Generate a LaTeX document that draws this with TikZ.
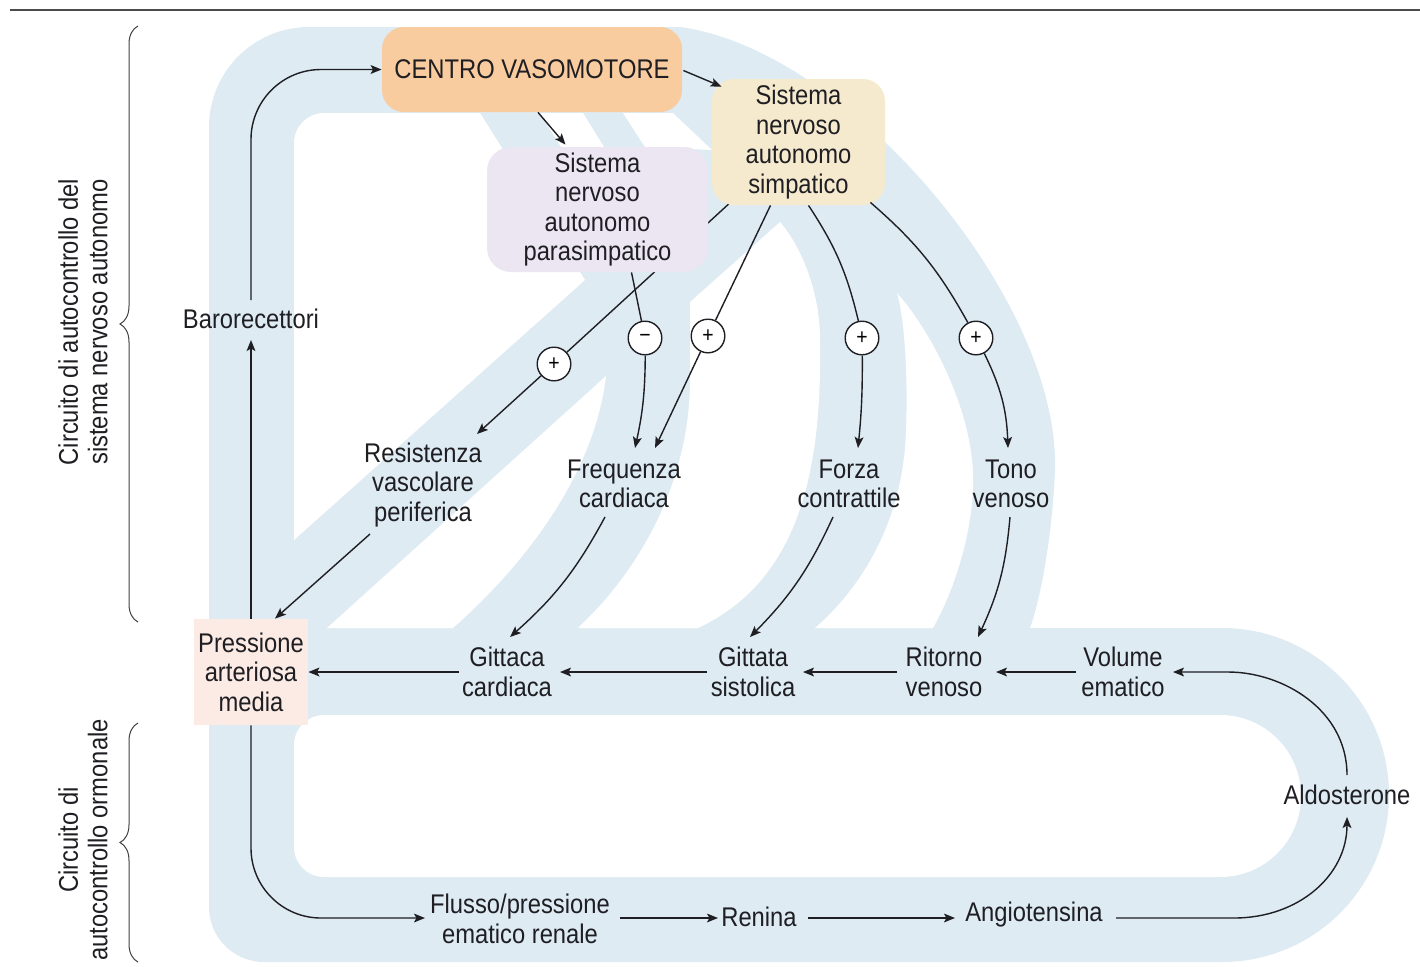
\documentclass[tikz,border=0pt]{standalone}
\usepackage{fontspec}
\setmainfont{Liberation Sans}[FakeStretch=0.88]
\usetikzlibrary{arrows.meta,calc,decorations.pathreplacing}
\definecolor{bandc}{RGB}{222,235,243}
\definecolor{cvc}{RGB}{249,204,159}
\definecolor{parc}{RGB}{236,230,242}
\definecolor{simc}{RGB}{246,234,206}
\definecolor{pamc}{RGB}{252,235,228}
\definecolor{inkc}{RGB}{30,30,35}
\pgfdeclarelayer{bg}
\pgfdeclarelayer{mid}
\pgfsetlayers{bg,mid,main}
\begin{document}
\begin{tikzpicture}[x=0.5pt,y=0.5pt,
  txt/.style={font=\fontsize{13.5}{14.7}\selectfont, align=center, inner sep=0pt, text=inkc},
  box/.style={txt},
  arr/.style={-{Stealth[length=5.5pt,width=4.4pt,inset=1.2pt]}, line width=0.7pt, draw=inkc},
  ln/.style={line width=0.7pt, draw=inkc},
  sgn/.style={circle, draw=inkc, line width=0.7pt, fill=white, minimum size=16.8pt, inner sep=0pt, font=\fontsize{11}{11}\selectfont},
  brc/.style={decorate, decoration={brace, amplitude=9pt}, line width=0.5pt, draw=black!75}
]
\useasboundingbox (0,0) rectangle (1420,-966);

% ---------- bands ----------
\begin{pgfonlayer}{bg}
\fill[bandc] (309,-27) -- (680,-27) .. controls (850,-50) and (1060,-300) .. (1055,-470)
  .. controls (1052,-540) and (1040,-600) .. (1030,-628) -- (1222,-628)
  arc[start angle=90,end angle=-90,radius=167] -- (264,-962)
  arc[start angle=270,end angle=180,radius=55] -- (209,-127)
  arc[start angle=180,end angle=90,radius=100] -- cycle;
\fill[white] (324,-715) -- (1220,-715) arc[start angle=90,end angle=-90,radius=81]
  -- (324,-877) arc[start angle=270,end angle=180,radius=30] -- (294,-745)
  arc[start angle=180,end angle=90,radius=30] -- cycle;
\fill[white] (294,-540) -- (294,-143) arc[start angle=180,end angle=90,radius=30]
  -- (480,-113) -- (585,-280) -- cycle;
\fill[white] (327,-628) -- (606,-376) .. controls (595,-470) and (530,-560) .. (453,-628) -- cycle;
\fill[white] (578,-628) .. controls (650,-560) and (690,-470) .. (690,-380) -- (690,-302)
  -- (780,-222) .. controls (800,-245) and (820,-290) .. (820,-340)
  .. controls (822,-470) and (800,-580) .. (698,-628) -- cycle;
\fill[white] (897,-293) .. controls (905,-320) and (908,-380) .. (906,-430)
  .. controls (904,-510) and (870,-580) .. (815,-628) -- (933,-628)
  .. controls (960,-580) and (978,-510) .. (972,-460)
  .. controls (966,-400) and (930,-330) .. (897,-293) -- cycle;
\fill[white] (540,-113) -- (583,-113) -- (604,-147) -- (561,-147) -- cycle;
\fill[white] (623,-113) -- (673,-113) -- (712,-150) -- (645,-147) -- cycle;
\end{pgfonlayer}

% ---------- header line and braces ----------
\coordinate (h1) at (10,-10);
\coordinate (h2) at (1420,-10);
\draw[line width=1.3pt, draw=black!70] (h1) -- (h2);
\coordinate (b1s) at (138,-622);
\coordinate (b1e) at (138,-26);
\coordinate (b2s) at (138,-962);
\coordinate (b2e) at (138,-723);
\draw[brc] (b1s) -- (b1e);
\draw[brc] (b2s) -- (b2e);
\node[txt, rotate=90] (lab1) at (83,-322) {Circuito di autocontrollo del\\sistema nervoso autonomo};
\node[txt, rotate=90] (lab2) at (83,-840) {Circuito di\\autocontrollo ormonale};

% ---------- boxes ----------
\node[box, fill=cvc, minimum width=150pt, minimum height=42.5pt, rounded corners=11pt] (cv) at (532,-69.5) {CENTRO VASOMOTORE};
\node[box, fill=parc, minimum width=110.5pt, minimum height=62.5pt, rounded corners=12pt] (par) at (597.5,-209.5) {Sistema\\nervoso\\autonomo\\parasimpatico};
\node[box, fill=simc, minimum width=86.5pt, minimum height=63pt, rounded corners=11pt] (sim) at (798.5,-142) {Sistema\\nervoso\\autonomo\\simpatico};
\node[box, fill=pamc, minimum width=57pt, minimum height=53pt] (pam) at (251,-672) {Pressione\\arteriosa\\media};

% ---------- text nodes ----------
\node[txt] (baro) at (251,-319) {Barorecettori};
\node[txt] (res) at (423,-485) {Resistenza\\vascolare\\periferica};
\node[txt] (frq) at (624,-484) {Frequenza\\cardiaca};
\node[txt] (frz) at (849,-484) {Forza\\contrattile};
\node[txt] (ton) at (1011,-484) {Tono\\venoso};
\node[txt] (git) at (507,-672) {Gittaca\\cardiaca};
\node[txt] (gtt) at (753,-672) {Gittata\\sistolica};
\node[txt] (rit) at (944,-672) {Ritorno\\venoso};
\node[txt] (vol) at (1123,-672) {Volume\\ematico};
\node[txt] (ald) at (1347,-795) {Aldosterone};
\node[txt] (flu) at (520,-919) {Flusso/pressione\\ematico renale};
\node[txt] (ren) at (759,-917) {Renina};
\node[txt] (ang) at (1034,-915) {Angiotensina};

% ---------- sign circles ----------
\node[sgn] (p1) at (554,-364) {+};
\node[sgn] (m1) at (645,-338) {−};
\node[sgn] (p2) at (708,-336) {+};
\node[sgn] (p3) at (862,-338) {+};
\node[sgn] (p4) at (976,-338) {+};

% ---------- connector hidden behind the parasympathetic box ----------
\begin{pgfonlayer}{mid}
\draw[ln] ($(sim.south west)+(21,5)$) -- (p1);
\end{pgfonlayer}

% ---------- connectors ----------
\draw[arr] (pam.north) -- ($(baro)+(0,-21)$);
\draw[arr, rounded corners=35pt] ($(baro)+(0,19)$) |- (cv.west);
\draw[arr] ($(cv.east)+(1,-1)$) -- ($(sim.north west)+(10,-8)$);
\draw[arr] ($(cv.south)+(6,0)$) -- ($(par.north)+(-32,2)$);
\draw[ln] ($(par.south)+(34,0)$) -- (m1);
\draw[arr] (m1) to[bend left=6] ($(frq)+(11,36)$);
\draw[ln] ($(sim.south)+(-28,0)$) -- (p2);
\draw[arr] (p2) -- ($(frq)+(31,36)$);
\draw[arr] (p1) -- ($(res)+(54,51)$);
\draw[ln] ($(sim.south)+(10,0)$) to[bend left=10] (p3);
\draw[arr] (p3) to[bend left=3] ($(frz)+(9,36)$);
\draw[ln] ($(sim.south east)+(-15,3)$) to[bend left=10] (p4);
\draw[arr] (p4) to[bend left=12] ($(ton)+(-3,36)$);
\draw[arr] ($(res)+(-53,-49)$) -- ($(pam.north)+(24,0)$);
\draw[arr] ($(frq)+(-19,-33)$) to[bend left=10] ($(git)+(3,35)$);
\draw[arr] ($(frz)+(-16,-33)$) to[bend left=10] ($(gtt)+(-3,35)$);
\draw[arr] ($(ton)+(-1,-33)$) to[bend left=10] ($(rit)+(34,35)$);
\draw[arr] ($(git)+(-48,0)$) -- (pam.east);
\draw[arr] ($(gtt)+(-46,0)$) -- ($(git)+(53,0)$);
\draw[arr] ($(rit)+(-47,0)$) -- ($(gtt)+(50,0)$);
\draw[arr] ($(vol)+(-47,0)$) -- ($(rit)+(52,0)$);
\draw[arr] ($(ald)+(0,20)$) .. controls ($(ald)+(0,85)$) and ($(vol)+(160,0)$) .. ($(vol)+(105,0)$) -- ($(vol)+(50,0)$);
\draw[arr] ($(ang)+(82,-3)$) -- ($(ang)+(200,-3)$) .. controls ($(ang)+(265,-3)$) and ($(ald)+(0,-80)$) .. ($(ald)+(0,-22)$);
\draw[arr] ($(ren)+(49,-1)$) -- ($(ang)+(-79,-3)$);
\draw[arr] ($(flu)+(100,1)$) -- ($(ren)+(-41,-1)$);
\draw[arr, rounded corners=35pt] (pam.south) |- ($(flu)+(-95,1)$);
\end{tikzpicture}
\end{document}
